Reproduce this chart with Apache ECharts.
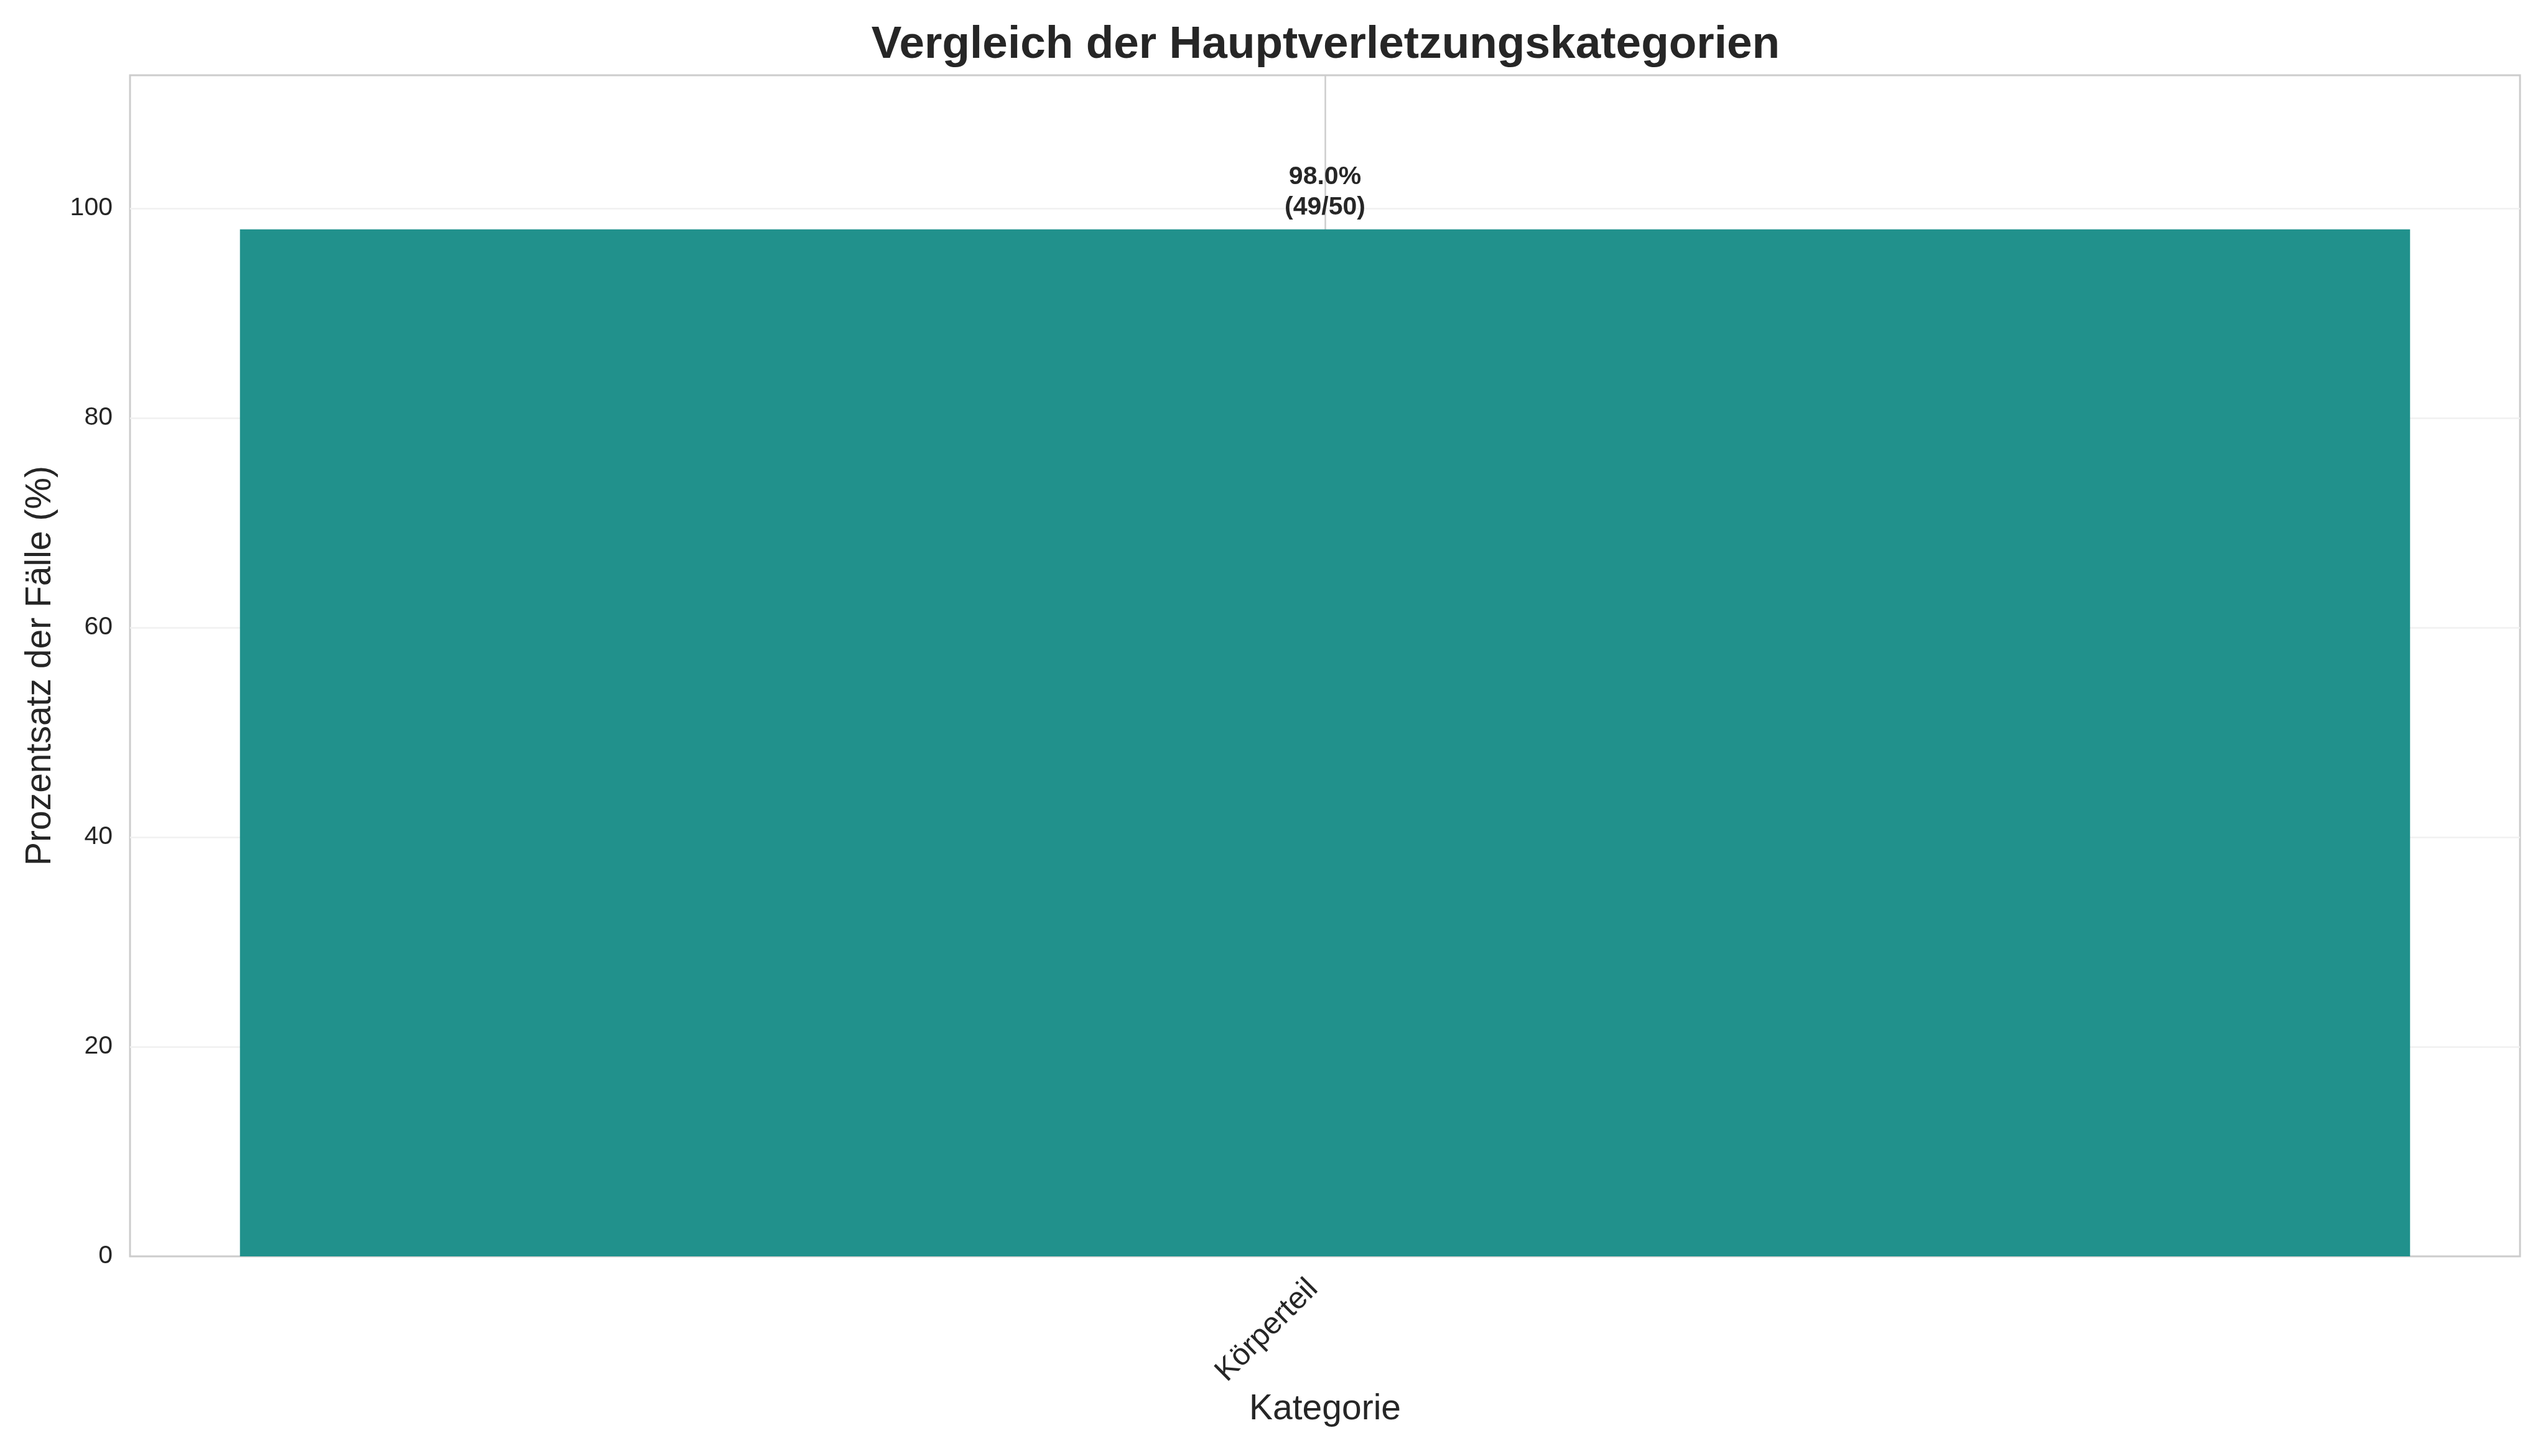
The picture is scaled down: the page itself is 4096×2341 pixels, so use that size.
<!DOCTYPE html>
<html>
<head>
<meta charset="utf-8">
<script src="https://cdn.jsdelivr.net/npm/echarts@6/dist/echarts.min.js"></script>
<style>
  html, body { margin: 0; padding: 0; background: #ffffff; }
  #chart { width: 4096px; height: 2341px; }
</style>
</head>
<body>
<div id="chart"></div>
<script>
const titleText = 'Vergleich der Hauptverletzungskategorien';
const categories = ['Körperteil'];
const percentages = [98.0];
const counts = [49];
const totals = [50];
const yTicks = [0, 20, 40, 60, 80, 100];
const yMax = 112.7;

const FONT = 'Liberation Sans, Arial, sans-serif';
const TXT = '#262626';

const chart = echarts.init(document.getElementById('chart'), null, { renderer: 'canvas' });

chart.setOption({
  backgroundColor: '#ffffff',
  animation: false,
  title: {
    text: titleText,
    left: 2131,
    top: 36,
    textAlign: 'center',
    padding: 0,
    textStyle: { fontFamily: FONT, fontSize: 73, fontWeight: 'bold', color: TXT }
  },
  grid: {
    left: 209, right: 45, top: 121, bottom: 321,
    show: true, borderColor: '#cccccc', borderWidth: 3, backgroundColor: '#ffffff'
  },
  xAxis: [
    {
      type: 'category',
      data: categories,
      axisLine: { show: false },
      axisTick: { show: false },
      splitLine: { show: false },
      axisLabel: {
        rotate: 45, align: 'right', verticalAlign: 'middle', margin: 26,
        padding: [0, 27, 0, 0],
        fontFamily: FONT, fontSize: 49, color: TXT
      },
      name: 'Kategorie',
      nameLocation: 'middle',
      nameGap: 218,
      nameTextStyle: { fontFamily: FONT, fontSize: 57, color: TXT }
    },
    {
      type: 'value',
      min: -1, max: 1, interval: 1,
      position: 'bottom',
      axisLine: { show: false },
      axisTick: { show: false },
      axisLabel: { show: false },
      splitLine: { show: true, showMinLine: false, showMaxLine: false, lineStyle: { color: '#cccccc', width: 2.5 } }
    }
  ],
  yAxis: {
    type: 'value',
    min: yTicks[0],
    max: yMax,
    interval: yTicks[1] - yTicks[0],
    axisLine: { show: false },
    axisTick: { show: false },
    axisLabel: {
      showMaxLabel: false, margin: 28,
      fontFamily: FONT, fontSize: 41, color: TXT
    },
    splitLine: { show: true, showMinLine: false, showMaxLine: false, lineStyle: { color: '#f0f0f0', width: 2.5 } },
    name: 'Prozentsatz der Fälle (%)',
    nameLocation: 'middle',
    nameGap: 115,
    nameTextStyle: { fontFamily: FONT, fontSize: 57, color: TXT }
  },
  series: [
    {
      type: 'bar',
      xAxisIndex: 0,
      yAxisIndex: 0,
      data: percentages,
      barWidth: '90.8%',
      itemStyle: { color: '#21918c' },
      label: {
        show: true,
        position: 'top',
        distance: 11,
        fontFamily: FONT,
        fontSize: 41,
        fontWeight: 'bold',
        lineHeight: 49,
        color: TXT,
        formatter: (p) => percentages[p.dataIndex].toFixed(1) + '%\n(' + counts[p.dataIndex] + '/' + totals[p.dataIndex] + ')'
      }
    }
  ]
});
</script>
</body>
</html>
